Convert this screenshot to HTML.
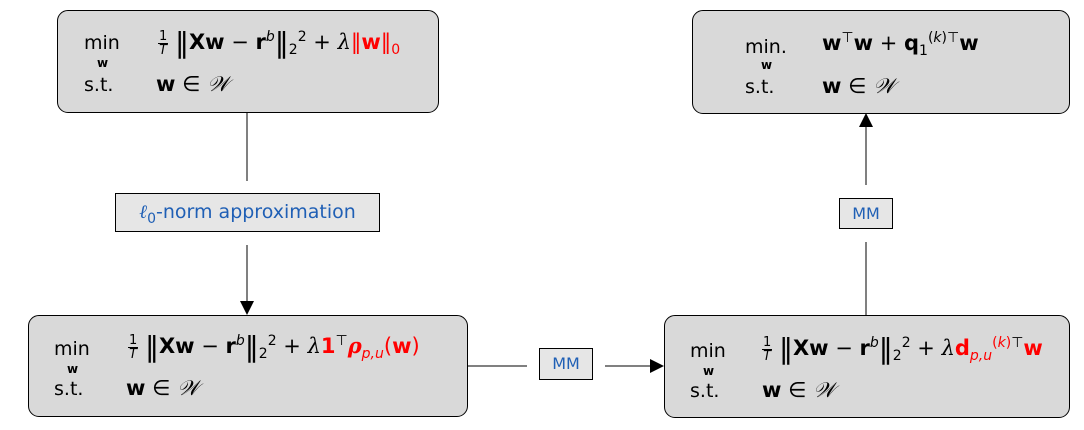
<!DOCTYPE html>
<html><head><meta charset="utf-8">
<style>
body{margin:0;width:1084px;height:430px;background:#fff;position:relative;overflow:hidden;font-family:"DejaVu Sans","Liberation Sans",sans-serif;color:#000}
.box{position:absolute;background:#d9d9d9;border:1px solid #000;border-radius:11px;box-sizing:border-box}
.lab{position:absolute;background:#e6e6e6;border:1px solid #000;box-sizing:border-box;color:#1f5fb5;font-size:19px;text-align:center}
.t{position:absolute;font-size:19px;white-space:nowrap}
.f{font-size:21px}
.s{font-family:"DejaVu Serif","Liberation Serif",serif;font-style:italic}
.r{color:#f00}
b{font-weight:bold}
sup,sub{font-size:14px}
.frac{display:inline-block;vertical-align:middle;text-align:center;font-size:13px;line-height:13px}
.frac span{display:block}
.frac .n{border-bottom:1px solid #000;padding:0 1px}
.nb{font-size:28px;vertical-align:-3px}
</style></head><body>
<svg width="1084" height="430" style="position:absolute;left:0;top:0">
<defs><marker id="a" markerWidth="14" markerHeight="14" refX="13" refY="7" orient="auto" markerUnits="userSpaceOnUse"><path d="M0,0L14,7L0,14z" fill="#000"/></marker></defs>
<line x1="247" y1="112" x2="247" y2="181" stroke="#000"/>
<line x1="247" y1="245" x2="247" y2="314" stroke="#000" marker-end="url(#a)"/>
<line x1="467" y1="366" x2="527" y2="366" stroke="#000"/>
<line x1="605" y1="366" x2="663" y2="366" stroke="#000" marker-end="url(#a)"/>
<line x1="866" y1="315" x2="866" y2="242" stroke="#000"/>
<line x1="866" y1="185" x2="866" y2="114" stroke="#000" marker-end="url(#a)"/>
</svg>

<div class="box" style="left:57px;top:10px;width:382px;height:103px"></div>
<div class="t" style="left:84px;top:32px">min</div>
<div class="t" style="left:97px;top:56px;font-size:12px"><b>w</b></div>
<div class="t f" style="left:158px;top:26px"><span class="frac"><span class="n">1</span><span><i>T</i></span></span> <span class="nb">‖</span><b>Xw</b> − <b>r</b><sup><i>b</i></sup><span class="nb">‖</span><sub>2</sub><sup>2</sup> + <span class="s">λ</span><span class="r">‖<b>w</b>‖<sub>0</sub></span></div>
<div class="t" style="left:84px;top:74px">s.t.</div>
<div class="t f" style="left:156px;top:72px"><b>w</b> ∈ <span class="s">𝒲</span></div>

<div class="box" style="left:692px;top:10px;width:378px;height:104px"></div>
<div class="t" style="left:745px;top:36px">min.</div>
<div class="t" style="left:761px;top:58px;font-size:12px"><b>w</b></div>
<div class="t f" style="left:822px;top:30px"><b>w</b><sup>⊤</sup><b>w</b> + <b>q</b><sub>1</sub><sup>(<i>k</i>)⊤</sup><b>w</b></div>
<div class="t" style="left:745px;top:76px">s.t.</div>
<div class="t f" style="left:822px;top:74px"><b>w</b> ∈ <span class="s">𝒲</span></div>

<div class="lab" style="left:115px;top:193px;width:265px;height:39px;line-height:37px"><span class="s">ℓ</span><sub>0</sub>-norm approximation</div>
<div class="lab" style="left:539px;top:348px;width:54px;height:32px;line-height:30px;font-size:16px">MM</div>
<div class="lab" style="left:839px;top:198px;width:54px;height:31px;line-height:29px;font-size:16px">MM</div>

<div class="box" style="left:28px;top:315px;width:440px;height:102px"></div>
<div class="t" style="left:54px;top:338px">min</div>
<div class="t" style="left:67px;top:362px;font-size:12px"><b>w</b></div>
<div class="t f" style="left:128px;top:330px"><span class="frac"><span class="n">1</span><span><i>T</i></span></span> <span class="nb">‖</span><b>Xw</b> − <b>r</b><sup><i>b</i></sup><span class="nb">‖</span><sub>2</sub><sup>2</sup> + <span class="s">λ</span><b class="r">1</b><sup>⊤</sup><span class="r"><b class="s">ρ</b><sub><i>p,u</i></sub>(<b>w</b>)</span></div>
<div class="t" style="left:54px;top:378px">s.t.</div>
<div class="t f" style="left:126px;top:376px"><b>w</b> ∈ <span class="s">𝒲</span></div>

<div class="box" style="left:664px;top:315px;width:406px;height:103px"></div>
<div class="t" style="left:690px;top:340px">min</div>
<div class="t" style="left:703px;top:364px;font-size:12px"><b>w</b></div>
<div class="t f" style="left:762px;top:332px"><span class="frac"><span class="n">1</span><span><i>T</i></span></span> <span class="nb">‖</span><b>Xw</b> − <b>r</b><sup><i>b</i></sup><span class="nb">‖</span><sub>2</sub><sup>2</sup> + <span class="s">λ</span><b class="r">d</b><sub class="r"><i>p,u</i></sub><sup><span class="r">(<i>k</i>)</span>⊤</sup><b class="r">w</b></div>
<div class="t" style="left:690px;top:380px">s.t.</div>
<div class="t f" style="left:762px;top:378px"><b>w</b> ∈ <span class="s">𝒲</span></div>
</body></html>
